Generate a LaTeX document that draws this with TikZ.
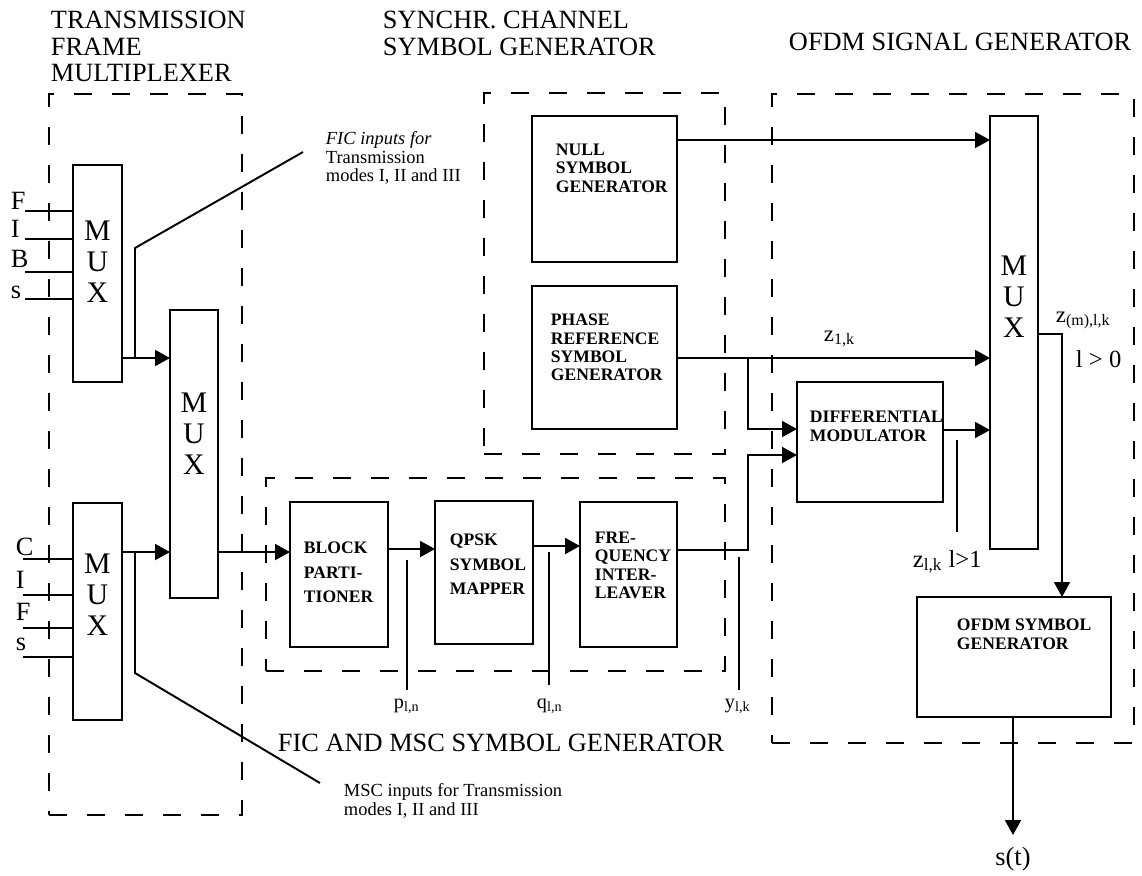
\documentclass[tikz,border=0pt]{standalone}
\usepackage{fontspec}
\setmainfont{Liberation Serif}
\usepackage{tikz}
\usetikzlibrary{arrows.meta,positioning,calc}
\tikzset{
  blk/.style     = {draw, rectangle, inner sep=0pt, outer sep=0pt, anchor=north west},
  grp/.style     = {draw, rectangle, inner sep=0pt, outer sep=0pt, anchor=north west,
                    dash pattern=on 3.6mm off 4mm},
  muxtxt/.style  = {inner sep=0pt, anchor=north, align=center,
                    font=\fontsize{17}{17.5}\selectfont},
  boxtxt/.style  = {inner sep=0pt, anchor=north west, align=left,
                    font=\fontsize{10}{10.5}\selectfont\bfseries},
  grptitle/.style= {inner sep=0pt, anchor=north west, align=left,
                    font=\fontsize{15}{15.2}\selectfont},
  note/.style    = {inner sep=0pt, anchor=north west, align=left,
                    font=\fontsize{10.5}{10.5}\selectfont},
  sig/.style     = {inner sep=0pt, anchor=base west, font=\fontsize{11.5}{11.5}\selectfont},
  bigsig/.style  = {inner sep=0pt, anchor=base west, font=\fontsize{14}{14}\selectfont},
  inlet/.style   = {inner sep=0pt, anchor=base west, font=\fontsize{15}{15}\selectfont},
  wire/.style    = {line width=1.1pt},
  flow/.style    = {-{Triangle[length=3mm,width=3.2mm]}, line width=1.1pt},
}

\begin{document}
\begin{tikzpicture}[x=0.2mm, y=-0.2mm, line width=1.1pt]
\useasboundingbox (0,0) rectangle (1142,875);

% dashed group frames
\node[grp, minimum width=38.6mm, minimum height=144.2mm] (tfm)    at (49,94)  {};
\node[grp, minimum width=48.2mm, minimum height=72.2mm]  (sync)   at (484,93) {};
\node[grp, minimum width=91.8mm, minimum height=38.6mm]  (ficmsc) at (266,478) {};
\node[grp, minimum width=72.4mm, minimum height=129.8mm] (ofdm)   at (772,94) {};

\node[grptitle] (tfmtitle)  at (50,10)   {TRANSMISSION\\FRAME\\MULTIPLEXER};
\node[grptitle] (synctitle) at (382,10)  {SYNCHR. CHANNEL\\SYMBOL GENERATOR};
\node[grptitle] (ofdmtitle) at (788,32)  {OFDM SIGNAL GENERATOR};
\node[grptitle] (fictitle)  at (277,733) {FIC AND MSC SYMBOL GENERATOR};

% multiplexers
\node[blk, minimum width=9.8mm, minimum height=43.4mm] (fibmux)  at (73,165)  {};
\node[blk, minimum width=9.8mm, minimum height=43.4mm] (cifmux)  at (73,503)  {};
\node[blk, minimum width=9.6mm, minimum height=57.6mm] (mainmux) at (170,310) {};
\node[blk, minimum width=9.6mm, minimum height=86.6mm] (ofdmmux) at (990,116) {};
\node[muxtxt] (fibmuxtxt)  at (97.5,220) {M\\U\\X};
\node[muxtxt] (cifmuxtxt)  at (97.5,553) {M\\U\\X};
\node[muxtxt] (mainmuxtxt) at (194,392)  {M\\U\\X};
\node[muxtxt] (ofdmmuxtxt) at (1014,255) {M\\U\\X};

% processing blocks
\node[blk, minimum width=29mm,   minimum height=29.2mm] (nullgen)   at (532,116) {};
\node[blk, minimum width=29mm,   minimum height=28.6mm] (phasegen)  at (532,286) {};
\node[blk, minimum width=19.6mm, minimum height=29mm]   (blockpart) at (290,502) {};
\node[blk, minimum width=19.6mm, minimum height=28.6mm] (qpsk)      at (435,501) {};
\node[blk, minimum width=19.4mm, minimum height=29mm]   (freqint)   at (580,502) {};
\node[blk, minimum width=29.2mm, minimum height=24mm]   (diffmod)   at (797,382) {};
\node[blk, minimum width=38.8mm, minimum height=24mm]   (ofdmsym)   at (917,597) {};

\node[boxtxt] (nulltxt)  at (555,143) {NULL\\SYMBOL\\GENERATOR};
\node[boxtxt] (phasetxt) at (550,313) {PHASE\\REFERENCE\\SYMBOL\\GENERATOR};
\node[boxtxt, font=\fontsize{10}{14}\selectfont\bfseries] (blocktxt) at (303,541) {BLOCK\\PARTI-\\TIONER};
\node[boxtxt, font=\fontsize{10}{14}\selectfont\bfseries] (qpsktxt)  at (449,533) {QPSK\\SYMBOL\\MAPPER};
\node[boxtxt] (freqtxt)  at (594,531) {FRE-\\QUENCY\\INTER-\\LEAVER};
\node[boxtxt] (difftxt)  at (809,410) {DIFFERENTIAL\\MODULATOR};
\node[boxtxt] (ofdmtxt)  at (956,618) {OFDM SYMBOL\\GENERATOR};

% FIB and CIF inputs
\foreach \ly/\by/\c [count=\i] in {211/209/F, 239/237/I, 272/267/B, 299/298/s}{
  \node[inlet] (fibl\i) at (10,\by) {\c};
  \coordinate (fibin\i) at (25,\ly);
  \draw[wire] (fibin\i) -- (fibin\i -| fibmux.west);
}
\foreach \ly/\by/\c [count=\i] in {559/555/C, 595/588/I, 628/620/F, 657/650/s}{
  \node[inlet] (cifl\i) at (15,\by) {\c};
  \coordinate (cifin\i) at (23,\ly);
  \draw[wire] (cifin\i) -- (cifin\i -| cifmux.west);
}

% multiplexer outputs and input notes
\coordinate (fibo) at (122,358);
\coordinate (cifo) at (122,552);
\draw[flow] (fibo) -- (fibo -| mainmux.west);
\draw[flow] (cifo) -- (cifo -| mainmux.west);
\draw[flow] (mainmux.east |- cifo) -- (blockpart.west |- cifo);

\node[note] (fictxt) at (325,131) {\textit{FIC inputs for}\\Transmission\\modes I, II and III};
\node[note] (msctxt) at (343,783) {MSC inputs for Transmission\\modes I, II and III};
\coordinate (ficknee) at (135,248);
\coordinate (ficend)  at (303,152);
\coordinate (mscknee) at (135,673);
\coordinate (mscend)  at (320,783);
\draw[wire] (ficknee |- fibo) -- (ficknee) -- (ficend);
\draw[wire] (mscknee |- cifo) -- (mscknee) -- (mscend);

% FIC/MSC chain
\coordinate (bpo) at (388,549);
\coordinate (qpo) at (533,546);
\coordinate (fio) at (677,550);
\coordinate (dmin1) at (797,429);
\coordinate (dmin2) at (797,455);
\draw[flow] (bpo) -- (bpo -| qpsk.west);
\draw[flow] (qpo) -- (qpo -| freqint.west);
\draw[flow] (fio) -- ++(71,0) |- (dmin2);

% synchronisation channel outputs
\coordinate (nuo) at (677,140);
\coordinate (pho) at (677,358);
\coordinate (phbr) at (748,358);
\draw[flow] (nuo) -- (nuo -| ofdmmux.west);
\draw[flow] (pho) -- (pho -| ofdmmux.west);
\draw[flow] (phbr) |- (dmin1);
\node[bigsig, font=\fontsize{13}{13}\selectfont] (z1k) at (823,341) {z\textsubscript{1,k}};

% OFDM part
\coordinate (dmo) at (943,430);
\coordinate (mxo) at (1038,334);
\coordinate (mxb) at (1062,334);
\coordinate (sout) at (1013,835);
\draw[flow] (dmo) -- (dmo -| ofdmmux.west);
\draw[flow] (mxo) -- (mxb) -- (mxb |- ofdmsym.north);
\draw[flow] (sout |- ofdmsym.south) -- (sout);
\node[bigsig, font=\fontsize{13}{13}\selectfont] (zmlk) at (1055,322) {z\textsubscript{(m),l,k}};
\node[bigsig] (lgt0) at (1075,367) {l > 0};
\node[bigsig, anchor=base, font=\fontsize{15}{15}\selectfont] (st) at (1013,865) {s(t)};

% signal markers
\foreach \n/\x/\t/\b in {pln/407/560/690, qln/549/552/685, ylk/739/557/690, zlk/957/440/532}{
  \coordinate (\n top) at (\x,\t);
  \coordinate (\n bot) at (\x,\b);
  \draw[wire] (\n top) -- (\n bot);
}
\node[sig] (plnlbl) at (393,708) {p\textsubscript{l,n}};
\node[sig] (qlnlbl) at (536,708) {q\textsubscript{l,n}};
\node[sig] (ylklbl) at (724,708) {y\textsubscript{l,k}};
\node[bigsig] (zlklbl) at (912,567) {z\textsubscript{l,k} l>1};
\end{tikzpicture}
\end{document}
